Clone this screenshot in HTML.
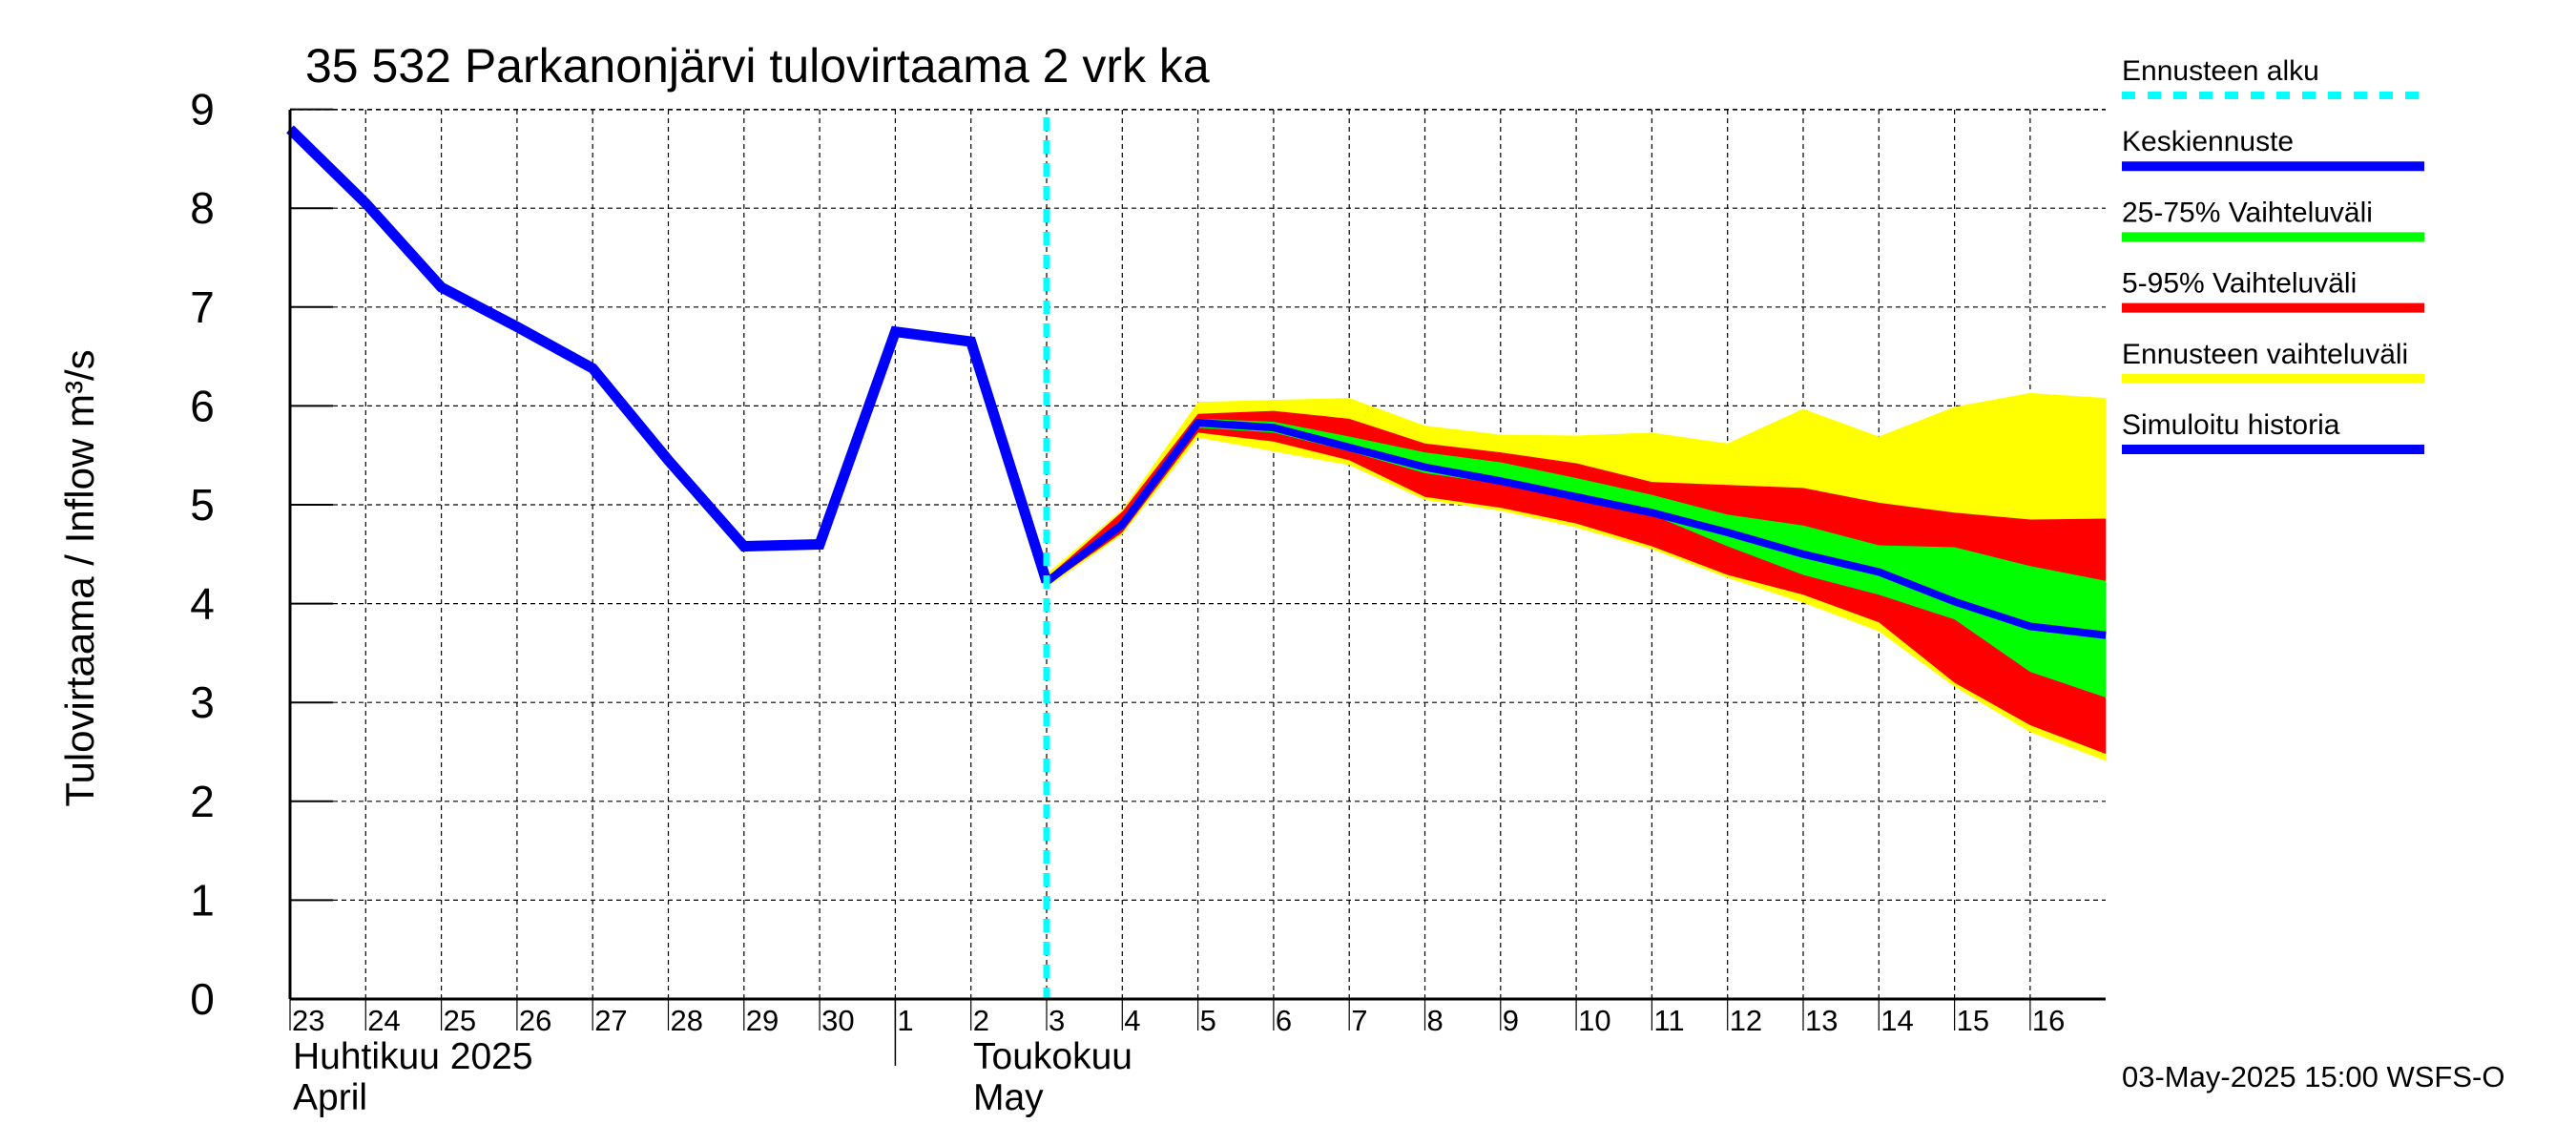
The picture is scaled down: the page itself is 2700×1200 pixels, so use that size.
<!DOCTYPE html>
<html><head><meta charset="utf-8">
<style>
html,body{margin:0;padding:0;background:#fff;}
svg{display:block;font-family:"Liberation Sans",sans-serif;}
</style></head>
<body>
<svg id="chart" width="2700" height="1200" viewBox="0 0 2700 1200" xmlns="http://www.w3.org/2000/svg">
<rect x="0" y="0" width="2700" height="1200" fill="#fff"/>
<text x="320" y="86" font-size="50">35 532 Parkanonjärvi tulovirtaama 2 vrk ka</text>
<text transform="translate(98,606) rotate(-90)" text-anchor="middle" font-size="42">Tulovirtaama / Inflow    m³/s</text>
<g id="grid"></g>
<g id="bands"></g>
<g id="lines"></g>
<g id="axes"></g>
<g id="legend"></g>
<text x="307" y="1120" font-size="39">Huhtikuu  2025</text>
<text x="307" y="1163" font-size="39">April</text>
<text x="1020" y="1120" font-size="39">Toukokuu</text>
<text x="1020" y="1163" font-size="39">May</text>
<text x="2224" y="1139" font-size="31">03-May-2025 15:00 WSFS-O</text>
</svg>
<script>
const dayLabels=["23","24","25","26","27","28","29","30","1","2","3","4","5","6","7","8","9","10","11","12","13","14","15","16"];
const yTicks=[0,1,2,3,4,5,6,7,8,9];
const history=[8.8,8.05,7.2,6.8,6.38,5.45,4.58,4.6,6.75,6.65,4.22];
const mean=[4.22,4.8,5.83,5.78,5.58,5.38,5.24,5.08,4.92,4.72,4.5,4.32,4.02,3.77,3.68];
const yellowHi=[4.3,4.95,6.04,6.06,6.08,5.8,5.71,5.7,5.73,5.62,5.97,5.69,5.99,6.13,6.08];
const redHi=[4.26,4.93,5.92,5.95,5.87,5.62,5.53,5.42,5.23,5.2,5.17,5.02,4.92,4.85,4.86];
const greenHi=[4.24,4.85,5.87,5.84,5.69,5.53,5.43,5.27,5.1,4.9,4.79,4.59,4.57,4.38,4.23];
const greenLo=[4.2,4.75,5.78,5.73,5.54,5.32,5.21,5.05,4.9,4.58,4.29,4.09,3.84,3.31,3.05];
const redLo=[4.18,4.72,5.73,5.64,5.45,5.08,4.97,4.81,4.58,4.29,4.09,3.81,3.2,2.77,2.48];
const yellowLo=[4.16,4.7,5.68,5.54,5.4,5.05,4.94,4.77,4.55,4.26,4.01,3.72,3.16,2.7,2.41];
const forecastStart=10;

const NS="http://www.w3.org/2000/svg";
const X0=304,DW=79.3,Y0=1047,YU=103.6,XR=2207,YT=115;
const xs=i=>X0+i*DW;
const ys=v=>Y0-v*YU;
function mk(tag,attrs,parent){const e=document.createElementNS(NS,tag);for(const k in attrs)e.setAttribute(k,attrs[k]);parent.appendChild(e);return e;}
const grid=document.getElementById('grid'),bands=document.getElementById('bands'),lines=document.getElementById('lines'),axes=document.getElementById('axes'),legend=document.getElementById('legend');

yTicks.forEach(v=>{
  const g=mk('line',{x1:X0,x2:XR,y1:ys(v),y2:ys(v),stroke:'#000','stroke-width':1.2,'stroke-dasharray':'5,4'},grid);
  
  
  const t=mk('line',{x1:X0,x2:X0+45,y1:ys(v),y2:ys(v),stroke:'#000','stroke-width':2},axes);
  
  
  const l=mk('text',{x:212,y:ys(v)+16,'font-size':46,'text-anchor':'middle'},axes);
  l.textContent=v;
  
  
});
dayLabels.forEach((d,i)=>{
  const x=xs(i);
  if(i>0){const g=mk('line',{x1:x,x2:x,y1:YT,y2:Y0,stroke:'#000','stroke-width':1.2,'stroke-dasharray':'5,4'},grid);
  
  }
  const t=mk('line',{x1:x,x2:x,y1:Y0,y2:Y0+33,stroke:'#000','stroke-width':1.2},axes);
  
  
  const l=mk('text',{x:x+2,y:1080,'font-size':31},axes);
  l.textContent=d;
  
  
});
mk('line',{x1:X0,x2:XR,y1:YT,y2:YT,stroke:'#000','stroke-width':1.2,'stroke-dasharray':'5,4'},grid);
const sep=mk('line',{x1:xs(8),x2:xs(8),y1:Y0,y2:1117,stroke:'#000','stroke-width':1.5},axes);



function band(hi,lo,color,name){
  let pts=hi.map((v,i)=>xs(forecastStart+i)+','+ys(v));
  for(let i=lo.length-1;i>=0;i--)pts.push(xs(forecastStart+i)+','+ys(lo[i]));
  const p=mk('polygon',{points:pts.join(' '),fill:color},bands);
  
  
}
band(yellowHi,yellowLo,'#ffff00','forecast-range-band');
band(redHi,redLo,'#ff0000','band-5-95');
band(greenHi,greenLo,'#00ff00','band-25-75');

const hp=mk('polyline',{points:history.map((v,i)=>xs(i)+','+ys(v)).join(' '),fill:'none',stroke:'#0000ff','stroke-width':11,'stroke-linejoin':'miter'},lines);


const mp=mk('polyline',{points:mean.map((v,i)=>xs(forecastStart+i)+','+ys(v)).join(' '),fill:'none',stroke:'#0000ff','stroke-width':8},lines);


const fs=mk('line',{x1:xs(forecastStart),x2:xs(forecastStart),y1:YT+8,y2:Y0,stroke:'#00ffff','stroke-width':7,'stroke-dasharray':'14,10'},lines);



mk('line',{x1:X0,x2:X0,y1:YT,y2:Y0,stroke:'#000','stroke-width':3},axes);
mk('line',{x1:X0,x2:XR,y1:Y0,y2:Y0,stroke:'#000','stroke-width':3},axes);

const legendItems=[["Ennusteen alku","#00ffff",true],["Keskiennuste","#0000ff",false],["25-75% Vaihteluväli","#00ff00",false],["5-95% Vaihteluväli","#ff0000",false],["Ennusteen vaihteluväli","#ffff00",false],["Simuloitu historia","#0000ff",false]];
legendItems.forEach((it,i)=>{
  const y=84+i*74.2;
  const t=mk('text',{x:2224,y:y,'font-size':30},legend);
  t.textContent=it[0];
  
  
  const a={x1:2224,x2:2541,y1:y+16,y2:y+16,stroke:it[1],'stroke-width':it[2]?8:10};
  if(it[2])a['stroke-dasharray']='14,13';
  const l=mk('line',a,legend);
  
  
});
</script>
</body></html>
